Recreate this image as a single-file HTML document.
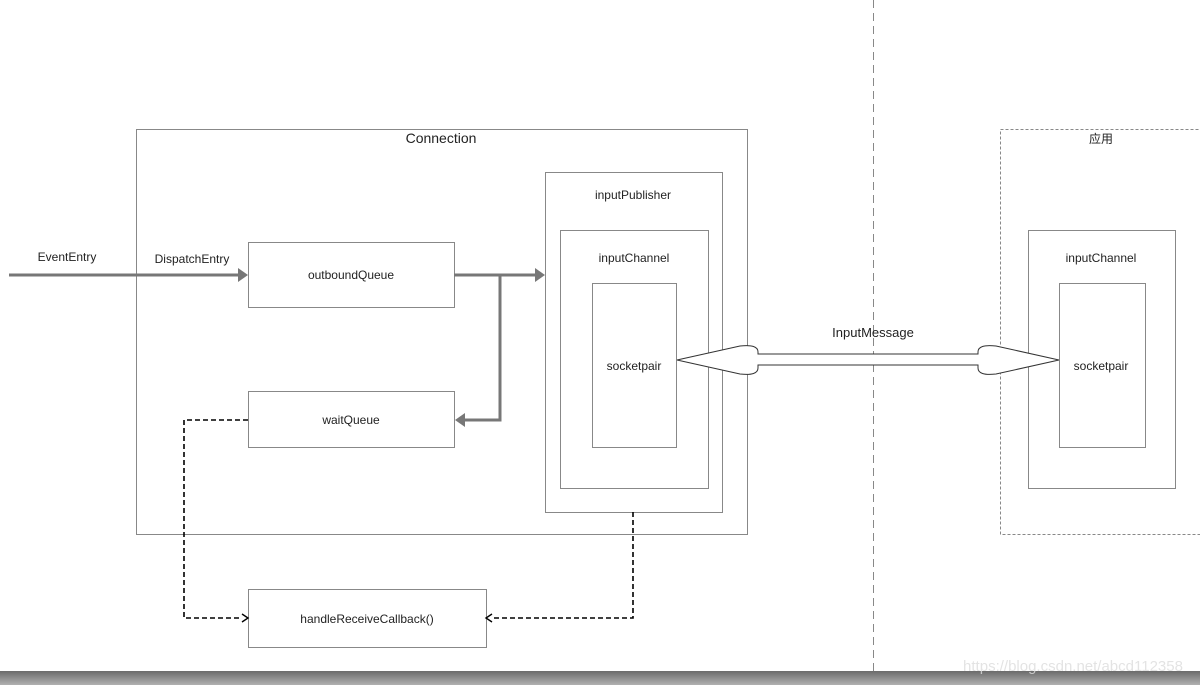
<!DOCTYPE html>
<html><head><meta charset="utf-8"><style>
html,body{margin:0;padding:0;background:#fff;}
svg{display:block;font-family:"Liberation Sans","Noto Sans CJK SC",sans-serif;}
</style></head><body>
<svg width="1200" height="685" viewBox="0 0 1200 685" xmlns="http://www.w3.org/2000/svg">
<defs>
<linearGradient id="bar" x1="0" y1="0" x2="0" y2="1"><stop offset="0" stop-color="#6a6a6a"/><stop offset="1" stop-color="#b0b0b0"/></linearGradient>
</defs>
<rect width="1200" height="685" fill="#fff"/>
<line x1="873.5" y1="0" x2="873.5" y2="671" stroke="#888" stroke-width="1" stroke-dasharray="8,5"/>
<g fill="none" stroke="#888" stroke-width="1">
<rect x="136.5" y="129.5" width="611" height="405"/>
<rect x="545.5" y="172.5" width="177" height="340"/>
<rect x="560.5" y="230.5" width="148" height="258"/>
<rect x="592.5" y="283.5" width="84" height="164"/>
<rect x="248.5" y="242.5" width="206" height="65"/>
<rect x="248.5" y="391.5" width="206" height="56"/>
<rect x="248.5" y="589.5" width="238" height="58"/>
<rect x="1028.5" y="230.5" width="147" height="258"/>
<rect x="1059.5" y="283.5" width="86" height="164"/>
</g>
<rect x="1000.5" y="129.5" width="210" height="405" fill="none" stroke="#888" stroke-dasharray="3,2"/>
<g fill="#222" font-size="12" text-anchor="middle">
<text x="441" y="143" font-size="14">Connection</text>
<text x="633" y="199">inputPublisher</text>
<text x="634" y="262">inputChannel</text>
<text x="634" y="370">socketpair</text>
<text x="351" y="279">outboundQueue</text>
<text x="351" y="424">waitQueue</text>
<text x="367" y="623">handleReceiveCallback()</text>
<text x="1101" y="143">应用</text>
<text x="1101" y="262">inputChannel</text>
<text x="1101" y="370">socketpair</text>
<text x="67" y="261">EventEntry</text>
<text x="192" y="263">DispatchEntry</text>
<text x="873" y="337" font-size="13">InputMessage</text>
</g>
<g stroke="#777" stroke-width="3" fill="none">
<line x1="9" y1="275" x2="240" y2="275"/>
<line x1="454" y1="275" x2="537" y2="275"/>
<polyline points="500,275 500,420 464,420"/>
</g>
<g fill="#777">
<polygon points="248,275 238,268 238,282"/>
<polygon points="545,275 535,268 535,282"/>
<polygon points="455,420 465,413 465,427"/>
</g>
<g stroke="#000" stroke-width="1.6" fill="none" stroke-dasharray="5,3">
<polyline points="248,420 184,420 184,618 242,618"/>
<polyline points="633,512 633,618 492,618"/>
</g>
<g fill="none" stroke="#000" stroke-width="1.4">
<polyline points="242,614 248,618 242,622"/>
<polyline points="492,614 486,618 492,622"/>
</g>
<path d="M677,360 L740,346 Q758,344 758,352 L758,354 L978,354 L978,352 Q978,344 996,346 L1059,360 L996,374 Q978,376 978,368 L978,365 L758,365 L758,368 Q758,376 740,374 Z" fill="#fff" stroke="#333" stroke-width="1"/>
<rect x="0" y="671" width="1200" height="14" fill="url(#bar)"/>
<text x="1073" y="671" font-size="15" fill="#ddd" text-anchor="middle" opacity="0.8">https://blog.csdn.net/abcd112358</text>
</svg>
</body></html>
